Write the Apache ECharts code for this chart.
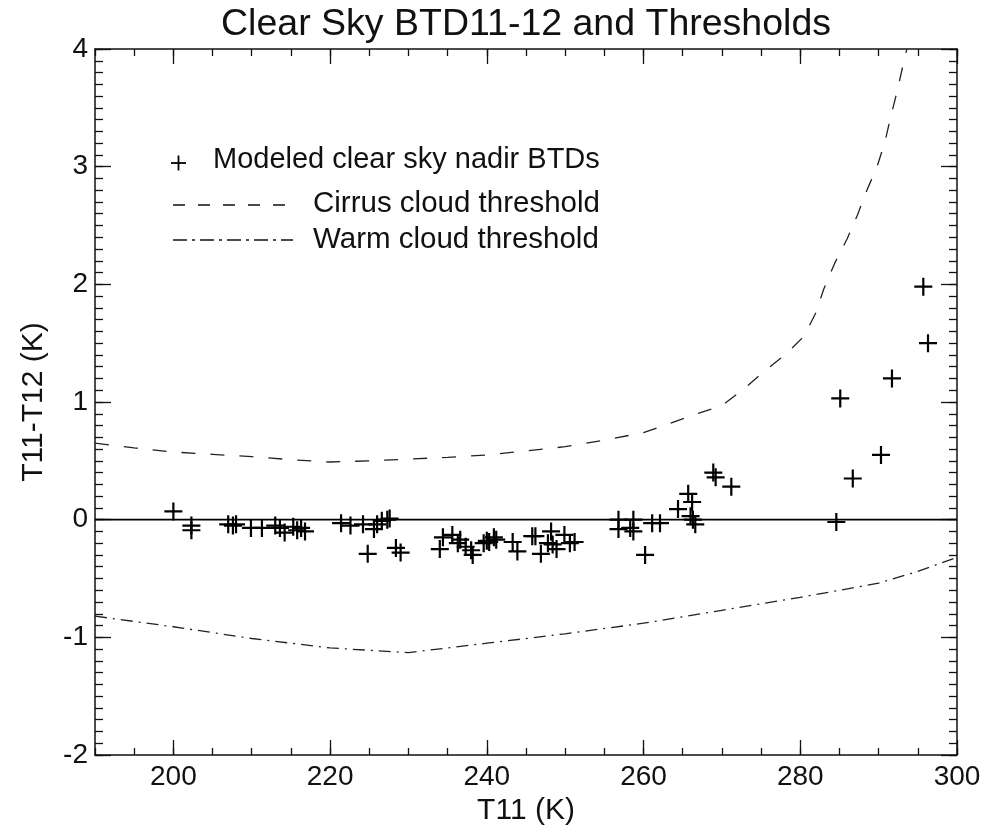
<!DOCTYPE html>
<html>
<head>
<meta charset="utf-8">
<script src="https://cdn.jsdelivr.net/npm/echarts@6/dist/echarts.min.js"></script>
<style>html,body{margin:0;padding:0;background:#fff}#c{width:984px;height:828px}</style>
</head>
<body>
<div id="c"></div>
<script>
// ---- data ----
const xMin = 190, xMax = 300, yMin = -2, yMax = 4;
const xMajorTicks = [200, 220, 240, 260, 280, 300];
const yMajorTicks = [-2, -1, 0, 1, 2, 3, 4];

// Modeled clear sky nadir BTDs (T11, T11-T12)
const btdT = [200.0, 202.3, 202.3, 207.0, 207.6, 208.0, 209.9, 211.3, 213.0, 213.6, 214.2,
  215.3, 215.8, 216.3, 216.8, 221.4, 222.6, 224.2, 225.6, 226.0, 226.6, 227.3, 227.6,
  224.8, 228.4, 229.0, 234.0, 234.4, 235.6, 236.3, 236.6, 237.3, 238.0, 238.2, 239.6,
  240.0, 240.3, 240.9, 241.2, 243.3, 243.9, 245.8, 246.2, 246.9, 247.8, 248.2, 248.4,
  248.9, 249.9, 250.6, 251.2, 256.8, 256.8, 258.3, 258.7, 258.7, 260.2, 261.1, 262.1,
  264.4, 265.7, 266.2, 266.0, 266.3, 266.6, 268.9, 269.2, 271.2,
  284.6, 285.1, 286.7, 290.3, 291.7, 295.7, 296.3];
const btdV = [0.07, -0.05, -0.09, -0.04, -0.05, -0.04, -0.07, -0.07, -0.05, -0.07, -0.11,
  -0.06, -0.09, -0.07, -0.10, -0.03, -0.05, -0.04, -0.08, -0.04, -0.01, 0.00, 0.01,
  -0.29, -0.24, -0.28, -0.25, -0.15, -0.13, -0.20, -0.17, -0.23, -0.26, -0.30, -0.20,
  -0.18, -0.19, -0.15, -0.17, -0.19, -0.27, -0.14, -0.14, -0.29, -0.20, -0.10, -0.21,
  -0.25, -0.13, -0.20, -0.19, 0.00, -0.08, -0.07, 0.00, -0.10, -0.30, -0.03, -0.03,
  0.09, 0.22, 0.15, 0.03, 0.00, -0.04, 0.40, 0.36, 0.28,
  -0.02, 1.03, 0.35, 0.55, 1.20, 1.98, 1.50];

// Cirrus cloud threshold
const cirrusT = [190, 195, 200, 205, 210, 215, 220, 225, 230, 235, 240, 245, 250, 255, 260,
  263, 266.4, 270, 272.6, 275.4, 278.2, 280.5, 282, 283, 284.4, 286, 287.3, 288.5, 289.8,
  290.8, 291.6, 292.4, 293.1, 293.6];
const cirrusV = [0.65, 0.61, 0.575, 0.555, 0.535, 0.51, 0.49, 0.50, 0.515, 0.53, 0.55, 0.585,
  0.62, 0.675, 0.74, 0.81, 0.89, 0.97, 1.10, 1.26, 1.41, 1.56, 1.76, 1.96, 2.18, 2.39, 2.59,
  2.80, 3.00, 3.21, 3.44, 3.65, 3.86, 4.00];

// Warm cloud threshold
const warmT = [190, 200, 210, 220, 230, 240, 250, 260, 270, 280, 290, 295, 300];
const warmV = [-0.82, -0.91, -1.01, -1.09, -1.13, -1.05, -0.97, -0.88, -0.77, -0.66, -0.54, -0.44, -0.32];

// Zero reference line
const zeroT = [190, 300];
const zeroV = [0, 0];

const zip = (a, b) => a.map((v, i) => [v, b[i]]);

const INK = '#111';
const SANS = "'Liberation Sans', Arial, sans-serif";
const PLUS = 'path://M7.9,0 H10.1 V7.9 H18 V10.1 H10.1 V18 H7.9 V10.1 H0 V7.9 H7.9 Z';

function minorX(pos) {
  return { type: 'value', min: xMin, max: xMax, interval: 5, position: pos,
    axisLine: { show: true, onZero: false, lineStyle: { color: INK, width: 1.5 } },
    axisTick: { show: true, inside: true, length: 7, lineStyle: { color: INK, width: 1.3 } },
    axisLabel: { show: false }, splitLine: { show: false } };
}
function majorX(pos, withLabels) {
  return { type: 'value', min: xMin, max: xMax, position: pos,
    axisLine: { show: false, onZero: false },
    axisTick: { show: true, inside: true, length: 15, customValues: xMajorTicks, lineStyle: { color: INK, width: 1.3 } },
    axisLabel: { show: withLabels, customValues: xMajorTicks, margin: 8, color: INK, fontSize: 28, fontFamily: SANS },
    splitLine: { show: false },
    name: withLabels ? 'T11 (K)' : '', nameLocation: 'middle', nameGap: 34,
    nameTextStyle: { color: INK, fontSize: 30, fontFamily: SANS } };
}
function minorY(pos) {
  return { type: 'value', min: yMin, max: yMax, interval: 0.1, position: pos,
    axisLine: { show: true, onZero: false, lineStyle: { color: INK, width: 1.5 } },
    axisTick: { show: true, inside: true, length: 8, lineStyle: { color: INK, width: 1.3 } },
    axisLabel: { show: false }, splitLine: { show: false } };
}
function majorY(pos, withLabels) {
  return { type: 'value', min: yMin, max: yMax, position: pos,
    axisLine: { show: false, onZero: false },
    axisTick: { show: true, inside: true, length: 16, customValues: yMajorTicks, lineStyle: { color: INK, width: 1.3 } },
    axisLabel: { show: withLabels, customValues: yMajorTicks, margin: 7, color: INK, fontSize: 28, fontFamily: SANS },
    splitLine: { show: false },
    name: withLabels ? 'T11-T12 (K)' : '', nameLocation: 'middle', nameGap: 46, nameRotate: 90,
    nameTextStyle: { color: INK, fontSize: 30, fontFamily: SANS } };
}

const chart = echarts.init(document.getElementById('c'), null, { renderer: 'canvas' });
chart.setOption({
  backgroundColor: '#fff',
  animation: false,
  grid: { left: 95, right: 27, top: 49, bottom: 73, containLabel: false, outerBoundsMode: 'none' },
  xAxis: [minorX('bottom'), majorX('bottom', true), minorX('top'), majorX('top', false)],
  yAxis: [minorY('left'), majorY('left', true), minorY('right'), majorY('right', false)],
  graphic: [
    { type: 'text', x: 526, y: 25, style: { text: 'Clear Sky BTD11-12 and Thresholds', fill: INK,
      font: '37.5px ' + SANS, textAlign: 'center', textVerticalAlign: 'middle' } },
    // legend
    { type: 'line', shape: { x1: 171, y1: 163, x2: 186, y2: 163 }, style: { stroke: '#000', lineWidth: 1.8 } },
    { type: 'line', shape: { x1: 178.5, y1: 155.5, x2: 178.5, y2: 170.5 }, style: { stroke: '#000', lineWidth: 1.8 } },
    { type: 'text', x: 213, y: 160, style: { text: 'Modeled clear sky nadir BTDs', fill: INK,
      font: '29px ' + SANS, textVerticalAlign: 'middle' } },
    { type: 'line', shape: { x1: 173, y1: 205, x2: 293, y2: 205 }, style: { stroke: INK, lineWidth: 1.3, lineDash: [12, 13] } },
    { type: 'text', x: 313, y: 204, style: { text: 'Cirrus cloud threshold', fill: INK,
      font: '29.5px ' + SANS, textVerticalAlign: 'middle' } },
    { type: 'line', shape: { x1: 173, y1: 240, x2: 293, y2: 240 }, style: { stroke: INK, lineWidth: 1.3, lineDash: [14, 5, 3, 5] } },
    { type: 'text', x: 313, y: 240, style: { text: 'Warm cloud threshold', fill: INK,
      font: '29.5px ' + SANS, textVerticalAlign: 'middle' } }
  ],
  series: [
    { type: 'line', name: 'zero', data: zip(zeroT, zeroV), symbol: 'none', silent: true,
      lineStyle: { color: '#000', width: 1.8 } },
    { type: 'line', name: 'Cirrus cloud threshold', data: zip(cirrusT, cirrusV), symbol: 'none', silent: true,
      lineStyle: { color: '#222', width: 1.3, type: [14, 15] } },
    { type: 'line', name: 'Warm cloud threshold', data: zip(warmT, warmV), symbol: 'none', silent: true,
      lineStyle: { color: '#222', width: 1.3, type: [12, 6, 2, 6] } },
    { type: 'scatter', name: 'Modeled clear sky nadir BTDs', data: zip(btdT, btdV), symbol: PLUS,
      symbolSize: 18, itemStyle: { color: '#000', opacity: 1 } }
  ]
});
</script>
</body>
</html>
